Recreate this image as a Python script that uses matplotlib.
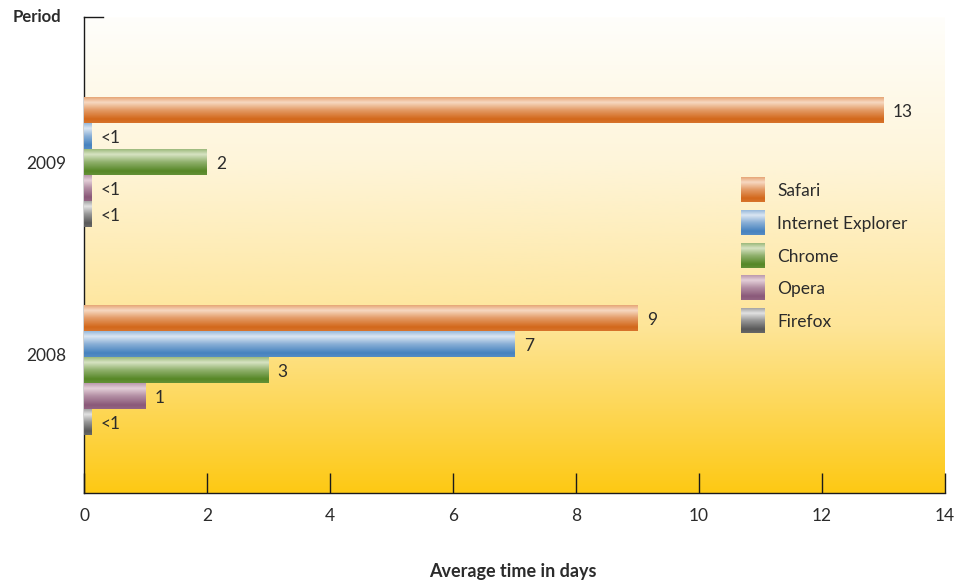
import numpy as np
import matplotlib
matplotlib.use("Agg")
import matplotlib.pyplot as plt
from matplotlib.colors import LinearSegmentedColormap, to_rgb
from matplotlib.lines import Line2D

plt.rcParams['font.family'] = ['Lato', 'DejaVu Sans']

# ---- data ----
periods = ["2009", "2008"]
browsers = ["Safari", "Internet Explorer", "Chrome", "Opera", "Firefox"]
values_2009 = [13, 0.12, 2, 0.12, 0.12]
values_2008 = [9, 7, 3, 1, 0.12]
labels_2009 = ["13", "<1", "2", "<1", "<1"]
labels_2008 = ["9", "7", "3", "1", "<1"]
light_colors = ["#f7d9c2", "#dbe6f2", "#d7e3c3", "#e4cfd8", "#e2e2e2"]
dark_colors = ["#d3681b", "#4682bf", "#568726", "#8a5979", "#595959"]

fig = plt.figure(figsize=(9.62, 5.84), dpi=100)
ax = fig.add_axes([84/962, 1-493/584, 861/962, 476/584])

# y layout in bar-height units (inverted)
bar_h = 1.0
group_centers = [5.58, 13.58]
y_min, y_max = 0, 18.31

def profile_img(light, dark, n=64):
    t = np.linspace(0, 1, n)
    p = np.interp(t, [0, 0.2, 0.5, 0.85, 1.0], [0.45, 0.0, 0.55, 1.0, 0.9])
    l = np.array(to_rgb(light)); d = np.array(to_rgb(dark))
    rgb = l[None, :] * (1 - p[:, None]) + d[None, :] * p[:, None]
    return rgb[:, None, :]

# background gradient
bg = LinearSegmentedColormap.from_list("bg", [(0, "#fffefb"), (0.3, "#fef5da"),
                                              (0.65, "#fee598"), (1, "#fdc914")])
grad = np.linspace(0, 1, 256)[:, None]
ax.imshow(grad, extent=[0, 14, y_max, y_min], cmap=bg, aspect='auto', zorder=0)

all_vals = [values_2009, values_2008]
all_labels = [labels_2009, labels_2008]
for gi, (vals, labs) in enumerate(zip(all_vals, all_labels)):
    for bi, (v, lab) in enumerate(zip(vals, labs)):
        yc = group_centers[gi] + (bi - 2) * bar_h
        bars = ax.barh(yc, v, height=bar_h, color='none', edgecolor='none', zorder=2)
        r = bars[0]
        x0, y0 = r.get_x(), r.get_y()
        im = ax.imshow(profile_img(light_colors[bi], dark_colors[bi]),
                       extent=[x0, x0 + r.get_width(), y0 + r.get_height(), y0],
                       aspect='auto', zorder=3, interpolation='bilinear')
        im.set_clip_path(r)
        ax.text(v + 0.15, yc, lab, va='center_baseline', ha='left', fontsize=12.5,
                color='#2b2b2b', zorder=4)

# legend drawn manually
leg_x0, leg_x1 = 10.68, 11.07
leg_y = [6.65, 7.92, 9.19, 10.42, 11.69]
for i, name in enumerate(browsers):
    ax.imshow(profile_img(light_colors[i], dark_colors[i]),
              extent=[leg_x0, leg_x1, leg_y[i] + 0.47, leg_y[i] - 0.47],
              aspect='auto', zorder=3, interpolation='bilinear')
    ax.text(11.27, leg_y[i], name, va='center_baseline', ha='left', fontsize=12.5,
            color='#2b2b2b', zorder=4)

ax.set_xlim(0, 14)
ax.set_ylim(y_max, y_min)
ax.set_xticks(np.arange(0, 15, 2))
ax.set_xticklabels([str(int(t)) for t in np.arange(0, 15, 2)])
ax.set_yticks([group_centers[0], 13.0])
ax.set_yticklabels(periods)
ax.tick_params(axis='x', direction='in', length=14.4, width=1.0, color='#1a1a1a',
               pad=11, labelsize=12.5, labelcolor='#2b2b2b')
ax.tick_params(axis='y', length=0, pad=13, labelsize=12.5, labelcolor='#2b2b2b')

for s in ['top', 'right']:
    ax.spines[s].set_visible(False)
for s in ['left', 'bottom']:
    ax.spines[s].set_color('#1a1a1a')
    ax.spines[s].set_linewidth(1.0)
ax.add_line(Line2D([0, 19/861], [1, 1], transform=ax.transAxes, color='#1a1a1a',
                   lw=1.0, clip_on=False, zorder=5))

fig.text(13/962, 1-17/584, "Period", fontsize=12, fontweight='bold',
         color='#2b2b2b', ha='left', va='center')
fig.text(513/962, 1-571/584, "Average time in days", fontsize=13, fontweight='bold',
         color='#2b2b2b', ha='center', va='center')

fig.savefig("out.png", dpi=100)
